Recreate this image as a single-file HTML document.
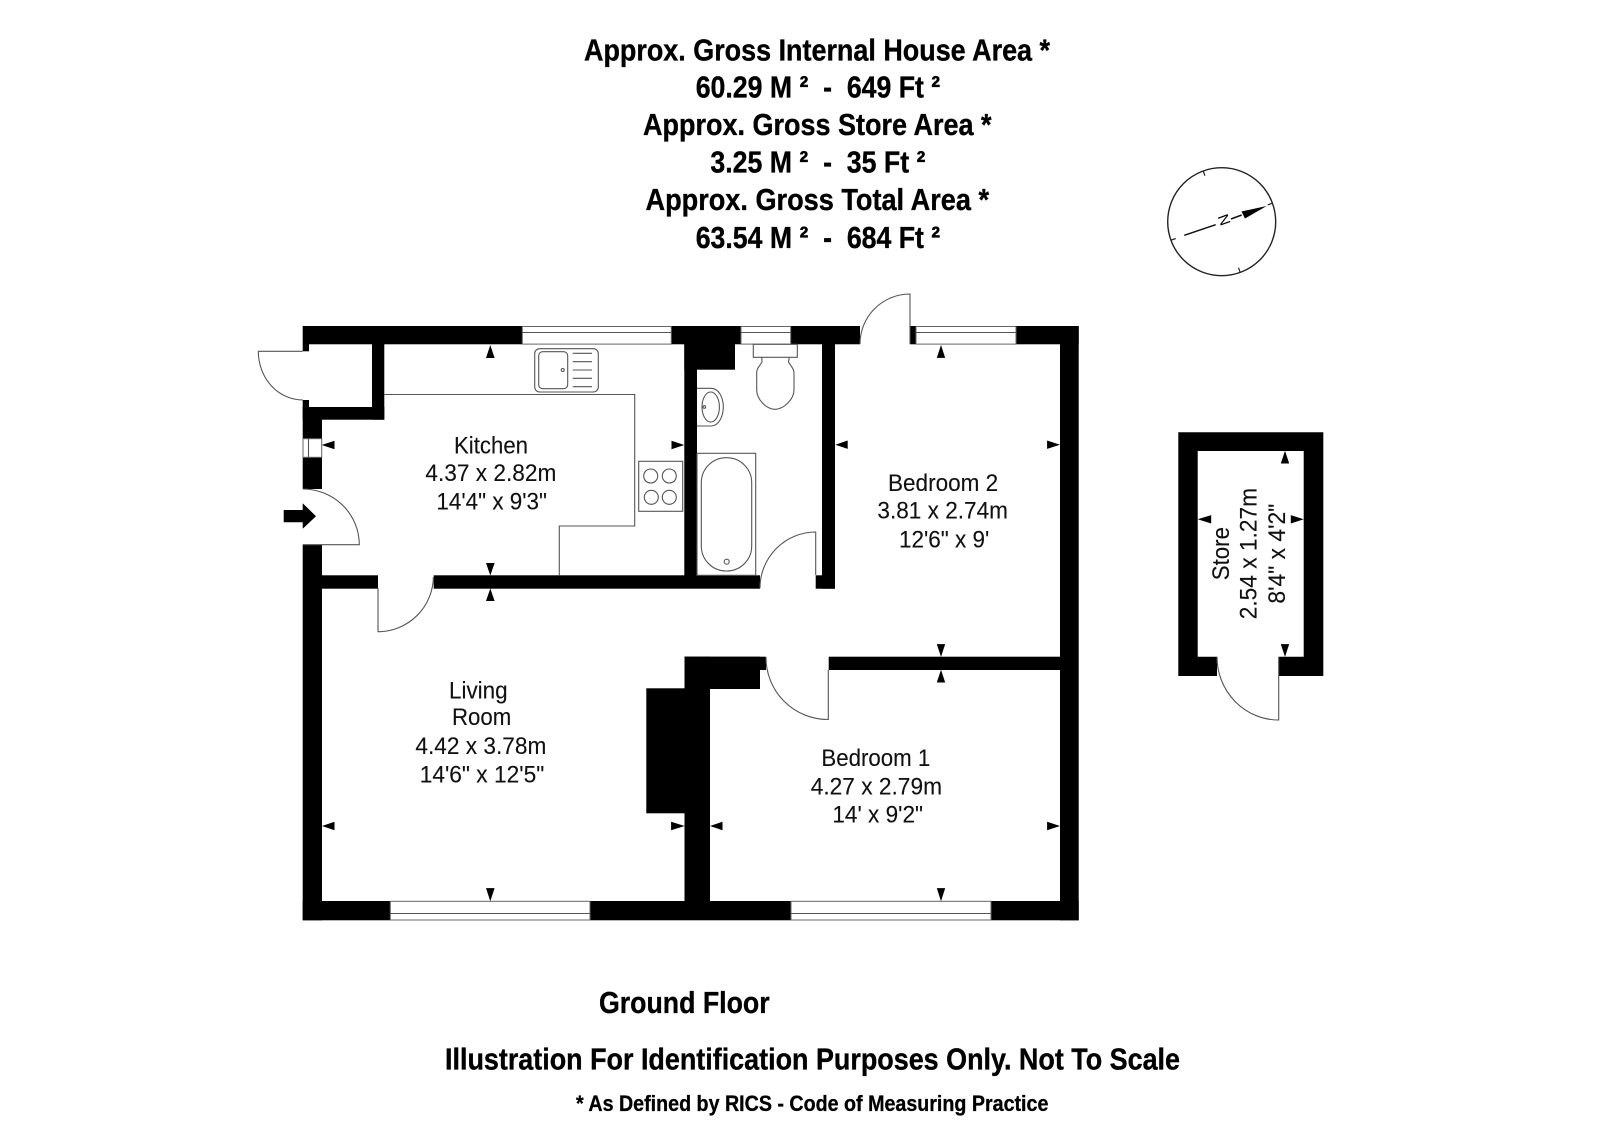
<!DOCTYPE html>
<html>
<head>
<meta charset="utf-8">
<title>Floor Plan</title>
<style>
html,body{margin:0;padding:0;background:#fff;}
svg{display:block;}
text{font-family:"Liberation Sans",sans-serif;fill:#000;white-space:pre;}
.h{font-weight:bold;font-size:31px;stroke:#000;stroke-width:.35px;}
.r{font-size:24.5px;fill:#111;stroke:#111;stroke-width:.12px;}
.l{fill:none;stroke:#555;stroke-width:1.1;}
.d{fill:#fff;stroke:#666;stroke-width:1;}
</style>
</head>
<body>
<svg xmlns="http://www.w3.org/2000/svg" width="1600" height="1139" viewBox="0 0 1600 1139">
<rect width="1600" height="1139" fill="#fff"/>

<!-- Header -->
<text class="h" x="584" y="60.7" textLength="466" lengthAdjust="spacingAndGlyphs">Approx. Gross Internal House Area *</text>
<text class="h" x="695.7" y="97.7" textLength="244.5" lengthAdjust="spacingAndGlyphs">60.29 M ²  -  649 Ft ²</text>
<text class="h" x="643" y="135" textLength="348.5" lengthAdjust="spacingAndGlyphs">Approx. Gross Store Area *</text>
<text class="h" x="710.4" y="172.7" textLength="215" lengthAdjust="spacingAndGlyphs">3.25 M ²  -  35 Ft ²</text>
<text class="h" x="645.5" y="210" textLength="343.5" lengthAdjust="spacingAndGlyphs">Approx. Gross Total Area *</text>
<text class="h" x="695.7" y="248" textLength="244.5" lengthAdjust="spacingAndGlyphs">63.54 M ²  -  684 Ft ²</text>

<!-- Compass -->
<circle cx="1221.7" cy="221.7" r="54" fill="none" stroke="#222" stroke-width="1.4"/>
<path d="M1272.4 203.2L1267.7 204.9M1203.2 171L1204.9 175.7M1240.2 272.4L1238.5 267.7M1171 240.2L1175.7 238.5" stroke="#222" stroke-width="1.2" fill="none"/>
<path d="M1184.3 235.3L1215.7 224.7M1231 219L1241.7 215" stroke="#111" stroke-width="1.5" fill="none"/>
<polygon points="1266.7,206 1241.5,211.5 1245,218.5" fill="#000"/>
<text transform="translate(1217.5,216.5) rotate(70)" style="font-size:15px">N</text>

<!-- Walls -->
<g fill="#000">
<rect x="302.7" y="326" width="219.6" height="18.3"/>
<rect x="671.5" y="326" width="69.5" height="18.3"/>
<rect x="790.7" y="326" width="69.3" height="18.3"/>
<rect x="910" y="326" width="6" height="18.3"/>
<rect x="1016" y="326" width="62.7" height="18.3"/>
<rect x="1060" y="326" width="18.7" height="594.3"/>
<rect x="302.7" y="901" width="87.6" height="19.3"/>
<rect x="590" y="901" width="201" height="19.3"/>
<rect x="991" y="901" width="87.7" height="19.3"/>
<rect x="302.7" y="544.7" width="19.3" height="375.6"/>
<rect x="302.7" y="457.3" width="19.3" height="31.7"/>
<rect x="302.7" y="407" width="19.3" height="31.7"/>
<rect x="302.7" y="344" width="6.3" height="7.3"/>
<rect x="302.7" y="400" width="6.3" height="8"/>
<rect x="372" y="344" width="12.3" height="75.7"/>
<rect x="302.7" y="407" width="81.6" height="12.7"/>
<rect x="322" y="575.3" width="56" height="13.4"/>
<rect x="433.7" y="575.3" width="326.3" height="13.4"/>
<rect x="684.3" y="344" width="12.7" height="244"/>
<rect x="684.3" y="344" width="50.7" height="25.7"/>
<rect x="822" y="344" width="13" height="244.7"/>
<rect x="815.7" y="575.3" width="19.3" height="13.4"/>
<rect x="684.5" y="656.7" width="25.5" height="244.3"/>
<rect x="684.5" y="656.7" width="75.5" height="32.3"/>
<rect x="684.5" y="656.7" width="81.5" height="13.3"/>
<rect x="646.3" y="688.3" width="38.4" height="125"/>
<rect x="828.7" y="656.7" width="231.3" height="13.3"/>
<!-- Store -->
<path d="M1178.3 432.3H1323.3V676H1278.7V656.7H1303.7V451H1197.7V656.7H1217V676H1178.3Z"/>
</g>

<!-- Windows -->
<g class="d">
<rect x="522.3" y="326.5" width="149" height="17.6" class="d"/>
<rect x="741" y="326.5" width="49.7" height="17.6" class="d"/>
<rect x="916" y="326.5" width="100" height="17.6" class="d"/>
<rect x="390.3" y="901.3" width="199.7" height="18.7" class="d"/>
<rect x="791" y="901.3" width="200" height="18.7" class="d"/>
<rect x="303" y="438.7" width="18.7" height="18.6" class="d"/>
</g>
<path class="l" d="M522.3 332.5H671.3M741 332.5H790.7M916 332.5H1016M390.3 913.5H590M791 913.5H991M308.5 438.7V457.3"/>

<!-- Doors -->
<path class="l" d="M302.7 351.3H258.3A44.4 48.7 0 0 0 303 400"/>
<path class="l" d="M302.7 544.7H359.3A56.6 55.7 0 0 0 302.7 489"/>
<path class="l" d="M378 588V631.7A55.5 55.5 0 0 0 433.4 577"/>
<path class="l" d="M815.7 575V532A56 56 0 0 0 760 588"/>
<path class="l" d="M910 344V294A50 50 0 0 0 860 344"/>
<path class="l" d="M828.3 670V719.5A62 62 0 0 1 766 657"/>
<path class="l" d="M1278.7 657V720A61.7 63.3 0 0 1 1217 656.7"/>

<!-- Kitchen fittings -->
<path class="l" d="M384.3 394.5H634.7V526H559.3V575.3"/>
<rect class="l" x="534.7" y="348.7" width="63.6" height="43.3" rx="5"/>
<rect class="l" x="538.7" y="351.7" width="29" height="37" rx="4"/>
<circle class="l" cx="562.7" cy="370" r="1.5"/>
<path class="l" d="M572.7 353.3H592M572.7 361.7H592M572.7 370H592M572.7 378.3H592M572.7 386.7H592"/>
<rect class="l" x="638.7" y="461.3" width="44" height="50"/>
<circle class="l" cx="650.7" cy="476" r="7"/>
<circle class="l" cx="669.3" cy="476" r="7"/>
<circle class="l" cx="651.3" cy="497.3" r="7"/>
<circle class="l" cx="669.3" cy="497.3" r="7"/>

<!-- Bathroom fittings -->
<path class="l" d="M697 388.3H711C719 388.3 723.3 398 723.3 407C723.3 416 719 426 711 426H697"/>
<ellipse class="l" cx="710.7" cy="407" rx="8.7" ry="15"/>
<circle class="l" cx="704.3" cy="407" r="1.3"/>
<rect class="l" x="753.3" y="344.3" width="44" height="13"/>
<path class="l" d="M761.7 357.3L762 362L759 366.5C757.3 368.5 756.7 371 756.7 373.3V390C756.7 399 766 409.3 775 409.3C784 409.3 794 399 794 390V373.3C794 371 793 368.5 791.5 366.5L788.5 362L789.3 357.3"/>
<rect class="l" x="697" y="453.3" width="58.7" height="122"/>
<rect class="l" x="701.3" y="457.7" width="50.4" height="113.3" rx="25" ry="25"/>
<circle class="l" cx="726.7" cy="561.7" r="2.5"/>

<!-- Entry arrow -->
<polygon fill="#000" points="283.7,510 302.7,510 302.7,503.3 316,516.2 302.7,528.7 302.7,522.3 283.7,522.3"/>

<!-- Dimension arrows -->
<g fill="#000">
<polygon points="490.3,345 486,358 494.6,358"/>
<polygon points="321.7,445 334.5,440.8 334.5,449.2"/>
<polygon points="684.3,445 671.5,440.8 671.5,449.2"/>
<polygon points="490.3,575.5 486,563 494.6,563"/>
<polygon points="490.3,588.5 486,601 494.6,601"/>
<polygon points="835.3,444.7 847.7,440.5 847.7,448.9"/>
<polygon points="1060,444.7 1047.1,440.5 1047.1,448.9"/>
<polygon points="941,345 936.8,357.9 945.2,357.9"/>
<polygon points="941,656.9 936.8,644.1 945.2,644.1"/>
<polygon points="941,669.8 936.8,682.5 945.2,682.5"/>
<polygon points="710,826 722.5,821.8 722.5,830.2"/>
<polygon points="1060,826 1047.1,821.8 1047.1,830.2"/>
<polygon points="941,901.2 936.8,888.1 945.2,888.1"/>
<polygon points="322,826 334.5,821.8 334.5,830.2"/>
<polygon points="684.7,826 671.1,821.8 671.1,830.2"/>
<polygon points="490.3,901.2 486,888.1 494.6,888.1"/>
<polygon points="1285,450.8 1280.8,463.5 1289.2,463.5"/>
<polygon points="1285,656.9 1280.8,644.1 1289.2,644.1"/>
<polygon points="1197.7,519.3 1211.2,515.1 1211.2,523.5"/>
<polygon points="1303.7,519.3 1290.8,515.1 1290.8,523.5"/>
</g>

<!-- Room labels -->
<text class="r" x="454" y="453.3" textLength="74" lengthAdjust="spacingAndGlyphs">Kitchen</text>
<text class="r" x="425.4" y="481" textLength="131" lengthAdjust="spacingAndGlyphs">4.37 x 2.82m</text>
<text class="r" x="436.4" y="509.3" textLength="110.6" lengthAdjust="spacingAndGlyphs">14'4" x 9'3"</text>

<text class="r" x="888" y="491" textLength="110.2" lengthAdjust="spacingAndGlyphs">Bedroom 2</text>
<text class="r" x="877.4" y="518.7" textLength="130.6" lengthAdjust="spacingAndGlyphs">3.81 x 2.74m</text>
<text class="r" x="899" y="547.3" textLength="90.3" lengthAdjust="spacingAndGlyphs">12'6" x 9'</text>

<text class="r" x="449" y="698.3" textLength="58.6" lengthAdjust="spacingAndGlyphs">Living</text>
<text class="r" x="452" y="725" textLength="59.3" lengthAdjust="spacingAndGlyphs">Room</text>
<text class="r" x="415.4" y="754" textLength="131" lengthAdjust="spacingAndGlyphs">4.42 x 3.78m</text>
<text class="r" x="419.7" y="782.3" textLength="124.6" lengthAdjust="spacingAndGlyphs">14'6" x 12'5"</text>

<text class="r" x="821.4" y="766" textLength="108.9" lengthAdjust="spacingAndGlyphs">Bedroom 1</text>
<text class="r" x="810.7" y="794.3" textLength="131.3" lengthAdjust="spacingAndGlyphs">4.27 x 2.79m</text>
<text class="r" x="832.4" y="822.3" textLength="90.6" lengthAdjust="spacingAndGlyphs">14' x 9'2"</text>

<text class="r" transform="translate(1229,580.3) rotate(-90)" textLength="53.3" lengthAdjust="spacingAndGlyphs">Store</text>
<text class="r" transform="translate(1256.7,619.3) rotate(-90)" textLength="131.3" lengthAdjust="spacingAndGlyphs">2.54 x 1.27m</text>
<text class="r" transform="translate(1285,603.6) rotate(-90)" textLength="99.9" lengthAdjust="spacingAndGlyphs">8'4" x 4'2"</text>

<!-- Footer -->
<text class="h" x="599" y="1012.9" textLength="170.6" lengthAdjust="spacingAndGlyphs">Ground Floor</text>
<text class="h" x="445" y="1069.5" textLength="735" lengthAdjust="spacingAndGlyphs">Illustration For Identification Purposes Only. Not To Scale</text>
<text class="h" x="576" y="1110.9" textLength="472.4" lengthAdjust="spacingAndGlyphs" style="font-size:22.5px;stroke-width:.3px">* As Defined by RICS - Code of Measuring Practice</text>
</svg>
</body>
</html>
